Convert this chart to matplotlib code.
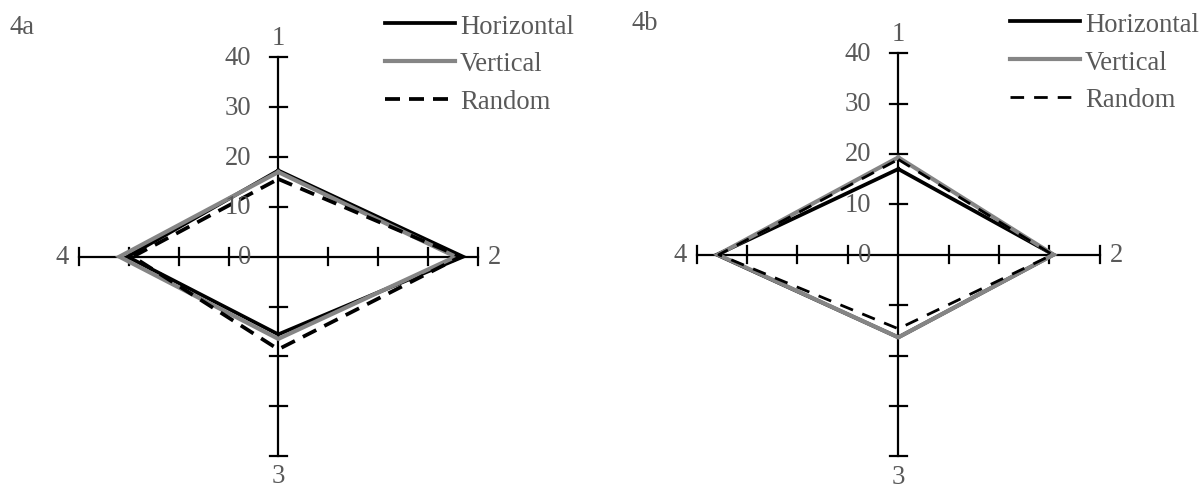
import matplotlib.pyplot as plt

SPOKES = ['1', '2', '3', '4']
SERIES = ['Horizontal', 'Vertical', 'Random']
RINGS = [0, 10, 20, 30, 40]

# chart 4a, values on spokes 1..4
A_HORIZONTAL = [17.3, 37.1, 15.6, 30.3]
A_VERTICAL = [17.0, 35.6, 16.5, 31.9]
A_RANDOM = [15.6, 36.6, 18.6, 29.2]

# chart 4b
B_HORIZONTAL = [17.0, 30.8, 16.4, 36.0]
B_VERTICAL = [19.3, 30.8, 16.4, 35.8]
B_RANDOM = [18.9, 30.6, 14.7, 35.6]

W, H = 1203, 489
FS = 19.2
TXT = '#595959'
GRAY = '#858585'
DIRS = [(0, 1), (1, 0), (0, -1), (-1, 0)]

plt.rcParams['font.family'] = ['Liberation Serif', 'DejaVu Serif']

fig = plt.figure(figsize=(W / 100, H / 100), dpi=100)


def radar(cx, cy, s, series, name, name_xy, leg_dx, dash_lw, dashes):
    L = 55
    ax = fig.add_axes([(cx - L * s) / W, (H - cy - L * s) / H,
                       2 * L * s / W, 2 * L * s / H])
    ax.set_xlim(-L, L)
    ax.set_ylim(-L, L)
    ax.axis('off')

    rmax = RINGS[-1]
    t = 8.5 / s
    ax.plot([0, 0], [-rmax, rmax], color='black', lw=1.6)
    ax.plot([-rmax, rmax], [0, 0], color='black', lw=1.6)
    for r in RINGS[1:]:
        for sg in (1, -1):
            ax.plot([-t, t], [sg * r, sg * r], color='black', lw=1.6)
            ax.plot([sg * r, sg * r], [-t, t], color='black', lw=1.6)
    for r in RINGS:
        ax.text(-27 / s, r, str(r), ha='right', va='center', fontsize=FS, color=TXT)

    off = 17 / s
    for lab, (dx, dy) in zip(SPOKES, DIRS):
        ax.text(dx * (rmax + off), dy * (rmax + off + 3 / s), lab,
                ha='center', va='center', fontsize=FS, color=TXT)

    styles = [dict(color='black', lw=2.7),
              dict(color=GRAY, lw=3.0),
              dict(color='black', lw=dash_lw, ls=(0, dashes))]
    handles = []
    for vals, lab, st in zip(series, SERIES, styles):
        xs = [v * d[0] for v, d in zip(vals, DIRS)]
        ys = [v * d[1] for v, d in zip(vals, DIRS)]
        ln, = ax.plot(xs + xs[:1], ys + ys[:1], label=lab,
                      solid_joinstyle='miter', **st)
        handles.append(ln)

    ax.legend(handles=handles, loc='upper left', bbox_to_anchor=(leg_dx / s, 243 / s),
              bbox_transform=ax.transData, frameon=False, borderpad=0,
              borderaxespad=0, handlelength=2.62, handletextpad=0.2,
              labelspacing=0.48, fontsize=FS, labelcolor=TXT)
    fig.text(name_xy[0] / W, 1 - name_xy[1] / H, name, fontsize=FS, color=TXT,
             ha='left', va='center')


radar(278.3, 257.7, 4.98, [A_HORIZONTAL, A_VERTICAL, A_RANDOM], '4a', (10, 28),
      106.7, 2.7, (4.0, 2.4))
radar(898.3, 255.7, 5.04, [B_HORIZONTAL, B_VERTICAL, B_RANDOM], '4b', (632, 23),
      111.7, 2.0, (4.9, 3.6))

fig.savefig('out.png', dpi=100)
